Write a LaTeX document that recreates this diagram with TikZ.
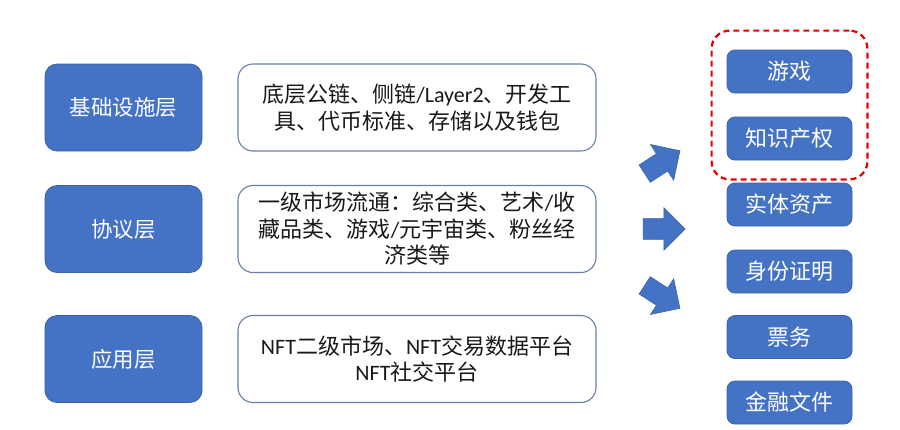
\documentclass[tikz,border=0pt]{standalone}
\usepackage{fontspec}
\setmainfont{Noto Sans CJK SC}
\newfontfamily\lat{Carlito}
\usetikzlibrary{shapes.arrows,fit}
\definecolor{officeblue}{HTML}{4472C4}
\definecolor{darkblue}{HTML}{3A63A8}
\definecolor{frameblue}{HTML}{6A7EA6}
\pgfdeclarelayer{edgelayer}
\pgfdeclarelayer{nodelayer}
\pgfsetlayers{edgelayer,nodelayer,main}
\tikzstyle{layer}=[rectangle, rounded corners=12pt, fill=officeblue, draw=darkblue, line width=0.8pt, text=white, minimum width=157pt, minimum height=87pt, font=\fontsize{21.5}{26}\selectfont]
\tikzstyle{detail}=[rectangle, rounded corners=15pt, fill=white, draw=frameblue, line width=1.1pt, minimum width=358pt, minimum height=87pt, align=center, text=black!90, font=\fontsize{22}{26.5}\selectfont]
\tikzstyle{usecase}=[rectangle, rounded corners=8pt, fill=officeblue, draw=darkblue, line width=0.8pt, text=white, minimum width=125pt, minimum height=43pt, font=\fontsize{22}{26}\selectfont]
\tikzstyle{bigarrow}=[single arrow, fill=officeblue, draw=darkblue, line width=0.6pt, inner xsep=2pt, inner ysep=10pt, minimum height=42pt, single arrow head extend=11pt]
\tikzstyle{redframe}=[draw=red!90!black, dashed, dash pattern=on 6pt off 4pt, line width=2.2pt, rounded corners=18pt, inner xsep=15pt, inner ysep=19pt]

\begin{document}
\begin{tikzpicture}[x=1pt,y=-1pt]
	\useasboundingbox (0,0) rectangle (900,429);
	\begin{pgfonlayer}{nodelayer}
		\node [style=layer] (1) at (123.5, 107.5) {基础设施层};
		\node [style=layer] (2) at (123.5, 229) {协议层};
		\node [style=layer] (3) at (123.5, 359) {应用层};
		\node [style=detail] (4) at (417, 107.5) {底层公链、侧链{\lat /Layer2}、开发工\\具、代币标准、存储以及钱包};
		\node [style=detail] (5) at (417, 229) {一级市场流通：综合类、艺术{\lat /}收\\藏品类、游戏{\lat /}元宇宙类、粉丝经\\济类等};
		\node [style=detail] (6) at (417, 359) {{\lat NFT}二级市场、{\lat NFT}交易数据平台\\{\lat NFT}社交平台};
		\node [style=bigarrow, rotate=33] (7) at (658, 165) {};
		\node [style=bigarrow] (8) at (659, 229) {};
		\node [style=bigarrow, rotate=-33] (9) at (658, 294) {};
		\node [style=usecase] (10) at (789.5, 71.5) {游戏};
		\node [style=usecase] (11) at (789.5, 138.5) {知识产权};
		\node [style=usecase] (12) at (789.5, 204.5) {实体资产};
		\node [style=usecase] (13) at (789.5, 271.5) {身份证明};
		\node [style=usecase] (14) at (789.5, 337) {票务};
		\node [style=usecase] (15) at (789.5, 402.5) {金融文件};
	\end{pgfonlayer}
	\begin{pgfonlayer}{edgelayer}
		\node [style=redframe, fit=(10) (11)] (16) {};
	\end{pgfonlayer}
\end{tikzpicture}
\end{document}
